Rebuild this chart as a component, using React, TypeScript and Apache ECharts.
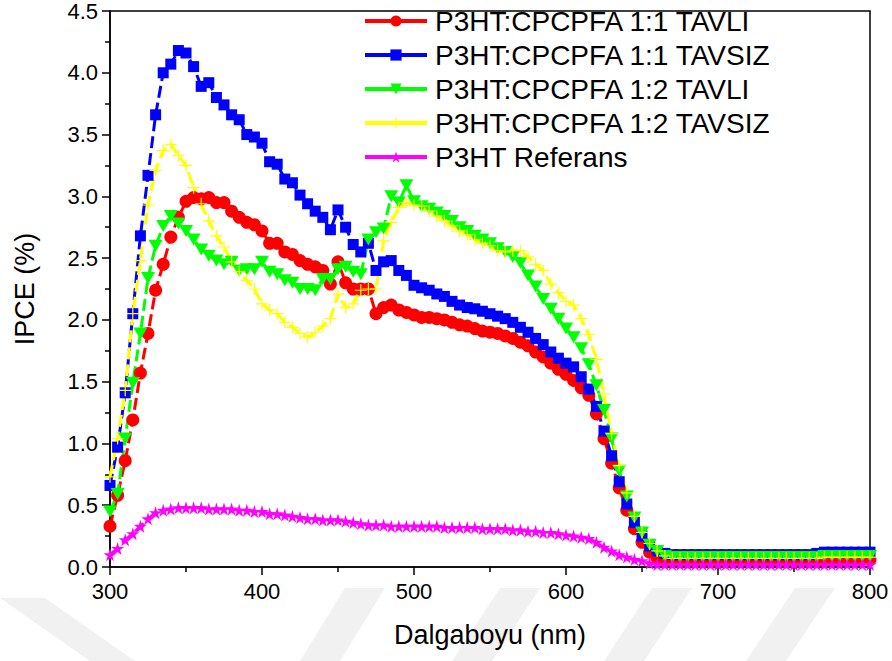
import React, { useEffect, useRef } from "react";
import * as echarts from "echarts";

const wavelength = [
  300, 305, 310, 315, 320, 325, 330, 335, 340, 345,
  350, 355, 360, 365, 370, 375, 380, 385, 390, 395,
  400, 405, 410, 415, 420, 425, 430, 435, 440, 445,
  450, 455, 460, 465, 470, 475, 480, 485, 490, 495,
  500, 505, 510, 515, 520, 525, 530, 535, 540, 545,
  550, 555, 560, 565, 570, 575, 580, 585, 590, 595,
  600, 605, 610, 615, 620, 625, 630, 635, 640, 645,
  650, 655, 660, 665, 670, 675, 680, 685, 690, 695,
  700, 705, 710, 715, 720, 725, 730, 735, 740, 745,
  750, 755, 760, 765, 770, 775, 780, 785, 790, 795,
  800,
];

const tavli11 = [
  0.33, 0.58, 0.86, 1.19, 1.57, 1.89, 2.24, 2.45, 2.67, 2.83,
  2.96, 2.99, 2.98, 2.99, 2.95, 2.95, 2.88, 2.83, 2.79, 2.77,
  2.72, 2.62, 2.62, 2.55, 2.53, 2.48, 2.45, 2.43, 2.40, 2.29,
  2.47, 2.30, 2.25, 2.25, 2.25, 2.05, 2.10, 2.12, 2.08, 2.06,
  2.04, 2.02, 2.02, 2.01, 2.00, 1.98, 1.96, 1.95, 1.93, 1.91,
  1.90, 1.89, 1.87, 1.85, 1.82, 1.79, 1.74, 1.70, 1.65, 1.60,
  1.56, 1.51, 1.45, 1.39, 1.24, 1.04, 0.84, 0.64, 0.46, 0.31,
  0.20, 0.12, 0.07, 0.05, 0.05, 0.05, 0.05, 0.05, 0.05, 0.05,
  0.05, 0.05, 0.05, 0.05, 0.05, 0.05, 0.05, 0.05, 0.05, 0.05,
  0.05, 0.05, 0.05, 0.05, 0.05, 0.06, 0.06, 0.06, 0.06, 0.06,
  0.06,
];

const tavsiz11 = [
  0.66, 0.97, 1.41, 2.05, 2.68, 3.17, 3.66, 4.00, 4.07, 4.18,
  4.16, 4.05, 3.89, 3.92, 3.80, 3.74, 3.66, 3.62, 3.50, 3.48,
  3.43, 3.28, 3.26, 3.14, 3.11, 3.01, 2.94, 2.88, 2.83, 2.73,
  2.89, 2.75, 2.61, 2.55, 2.62, 2.40, 2.47, 2.48, 2.40, 2.36,
  2.28, 2.26, 2.24, 2.21, 2.19, 2.15, 2.12, 2.10, 2.09, 2.07,
  2.05, 2.03, 2.01, 1.98, 1.94, 1.90, 1.85, 1.80, 1.74, 1.69,
  1.65, 1.62, 1.54, 1.44, 1.30, 1.10, 0.90, 0.69, 0.51, 0.36,
  0.25, 0.17, 0.13, 0.11, 0.10, 0.10, 0.10, 0.10, 0.10, 0.10,
  0.10, 0.10, 0.10, 0.10, 0.10, 0.10, 0.10, 0.10, 0.10, 0.10,
  0.10, 0.10, 0.10, 0.11, 0.12, 0.12, 0.12, 0.12, 0.12, 0.12,
  0.12,
];

const tavli12 = [
  0.45, 0.59, 1.04, 1.49, 1.89, 2.34, 2.60, 2.76, 2.84, 2.78,
  2.72, 2.65, 2.57, 2.52, 2.48, 2.45, 2.47, 2.40, 2.41, 2.41,
  2.47, 2.39, 2.37, 2.32, 2.30, 2.25, 2.25, 2.24, 2.33, 2.33,
  2.41, 2.43, 2.39, 2.37, 2.65, 2.71, 2.74, 3.00, 2.95, 3.09,
  2.96, 2.92, 2.90, 2.87, 2.84, 2.80, 2.75, 2.72, 2.68, 2.65,
  2.62, 2.58, 2.55, 2.51, 2.46, 2.36, 2.27, 2.17, 2.09, 2.01,
  1.93, 1.86, 1.77, 1.64, 1.47, 1.27, 1.04, 0.78, 0.57, 0.40,
  0.28, 0.18, 0.13, 0.09, 0.08, 0.08, 0.08, 0.08, 0.08, 0.08,
  0.08, 0.08, 0.08, 0.08, 0.08, 0.08, 0.08, 0.08, 0.08, 0.08,
  0.08, 0.08, 0.08, 0.08, 0.09, 0.09, 0.09, 0.09, 0.09, 0.09,
  0.09,
];

const tavsiz12 = [
  0.73, 1.04, 1.43, 2.05, 2.48, 2.93, 3.21, 3.37, 3.42, 3.33,
  3.25, 3.07, 2.94, 2.80, 2.68, 2.59, 2.47, 2.39, 2.32, 2.25,
  2.13, 2.08, 2.05, 1.98, 1.94, 1.89, 1.86, 1.90, 1.95, 2.01,
  2.21, 2.10, 2.13, 2.24, 2.25, 2.25, 2.64, 2.79, 2.91, 2.95,
  2.93, 2.92, 2.88, 2.84, 2.80, 2.76, 2.72, 2.69, 2.65, 2.62,
  2.60, 2.56, 2.55, 2.56, 2.56, 2.51, 2.45, 2.40, 2.29, 2.22,
  2.15, 2.12, 2.01, 1.88, 1.68, 1.40, 1.08, 0.82, 0.60, 0.41,
  0.28, 0.19, 0.13, 0.09, 0.07, 0.07, 0.07, 0.07, 0.07, 0.07,
  0.07, 0.07, 0.07, 0.07, 0.07, 0.07, 0.07, 0.07, 0.07, 0.07,
  0.07, 0.07, 0.07, 0.07, 0.08, 0.08, 0.08, 0.08, 0.08, 0.08,
  0.08,
];

const referans = [
  0.10, 0.15, 0.22, 0.27, 0.33, 0.39, 0.44, 0.46, 0.47, 0.48,
  0.48, 0.48, 0.48, 0.47, 0.47, 0.47, 0.47, 0.46, 0.46, 0.45,
  0.45, 0.43, 0.43, 0.42, 0.41, 0.40, 0.39, 0.39, 0.38, 0.38,
  0.38, 0.37, 0.36, 0.35, 0.34, 0.34, 0.34, 0.33, 0.33, 0.33,
  0.33, 0.33, 0.33, 0.33, 0.32, 0.32, 0.32, 0.32, 0.32, 0.31,
  0.31, 0.31, 0.31, 0.30, 0.30, 0.29, 0.29, 0.28, 0.28, 0.27,
  0.26, 0.25, 0.24, 0.23, 0.20, 0.16, 0.13, 0.10, 0.08, 0.06,
  0.05, 0.03, 0.02, 0.02, 0.02, 0.02, 0.02, 0.02, 0.02, 0.02,
  0.02, 0.02, 0.02, 0.02, 0.02, 0.02, 0.02, 0.02, 0.02, 0.02,
  0.02, 0.02, 0.02, 0.02, 0.02, 0.02, 0.02, 0.02, 0.02, 0.02,
  0.02,
];

const seriesNames = [
  "P3HT:CPCPFA 1:1 TAVLI",
  "P3HT:CPCPFA 1:1 TAVSIZ",
  "P3HT:CPCPFA 1:2 TAVLI",
  "P3HT:CPCPFA 1:2 TAVSIZ",
  "P3HT Referans",
];

const FONT = "'Liberation Sans', Arial, sans-serif";

const TRI_DOWN = "path://M0,0L12,0L6,10Z";
const PLUS = "path://M4.5,0h1v4.5h4.5v1h-4.5v4.5h-1v-4.5h-4.5v-1h4.5z";
const STAR =
  "path://M50,0L61,35L98,35L68,57L79,91L50,70L21,91L32,57L2,35L39,35Z";

export default function App() {
  const ref = useRef<HTMLDivElement>(null);

  useEffect(() => {
    document.body.style.margin = "0";
    if (!ref.current) return;
    const chart = echarts.init(ref.current, null, { renderer: "svg" });

    const mk = (
      name: string,
      vals: number[],
      color: string,
      symbol: string,
      symbolSize: any
    ) => ({
      name,
      type: "line",
      data: wavelength.map((x, i) => [x, vals[i]]),
      symbol,
      symbolSize,
      showSymbol: true,
      color,
      itemStyle: { color, borderWidth: 0 },
      lineStyle: { color, width: 3, type: [12, 5] },
      emphasis: { disabled: true },
    });

    const wm = "#f1f1f1";
    const band = (x1: number, x2: number) => ({
      type: "polygon",
      z: 0,
      silent: true,
      shape: {
        points: [
          [x1, 661],
          [x1 + 40, 661],
          [x2 + 40, 588],
          [x2, 588],
        ],
      },
      style: { fill: wm },
    });

    chart.setOption({
      animation: false,
      backgroundColor: "#ffffff",
      textStyle: { fontFamily: FONT },
      graphic: [
        {
          type: "polygon",
          z: 0,
          silent: true,
          shape: {
            points: [
              [0, 598],
              [45, 598],
              [135, 661],
              [90, 661],
            ],
          },
          style: { fill: wm },
        },
        band(300, 345),
        band(452, 500),
        band(604, 652),
        band(746, 795),
      ],
      grid: {
        left: 110,
        right: 22,
        top: 9,
        bottom: 94,
        show: true,
        borderColor: "#000",
        borderWidth: 1.5,
        backgroundColor: "transparent",
        z: 3,
      },
      legend: {
        orient: "vertical",
        left: 358,
        top: 2,
        itemWidth: 62,
        itemHeight: 14,
        itemGap: 6,
        lineStyle: { type: "solid", width: 4 },
        textStyle: {
          fontFamily: FONT,
          fontSize: 28,
          color: "#000",
          lineHeight: 28,
          padding: [0, 0, 0, 3],
        },
        data: seriesNames,
      },
      xAxis: {
        type: "value",
        min: 300,
        max: 800,
        interval: 100,
        name: "Dalgaboyu (nm)",
        nameLocation: "middle",
        nameGap: 54,
        nameTextStyle: { fontFamily: FONT, fontSize: 27, color: "#000" },
        axisLine: { show: true, lineStyle: { color: "#000", width: 1.5 } },
        axisTick: {
          show: true,
          inside: false,
          length: 8,
          lineStyle: { color: "#000", width: 1.5 },
        },
        minorTick: {
          show: true,
          splitNumber: 2,
          length: 5,
          lineStyle: { color: "#000", width: 1.5 },
        },
        axisLabel: {
          margin: 13,
          fontFamily: FONT,
          fontSize: 22,
          color: "#000",
        },
        splitLine: { show: false },
      },
      yAxis: {
        type: "value",
        min: 0,
        max: 4.5,
        interval: 0.5,
        name: "IPCE (%)",
        nameLocation: "middle",
        nameGap: 72,
        nameTextStyle: { fontFamily: FONT, fontSize: 27, color: "#000" },
        axisLine: { show: true, lineStyle: { color: "#000", width: 1.5 } },
        axisTick: {
          show: true,
          inside: false,
          length: 8,
          lineStyle: { color: "#000", width: 1.5 },
        },
        minorTick: {
          show: true,
          splitNumber: 2,
          length: 5,
          lineStyle: { color: "#000", width: 1.5 },
        },
        axisLabel: {
          margin: 12,
          fontFamily: FONT,
          fontSize: 22,
          color: "#000",
          formatter: (v: number) => v.toFixed(1),
        },
        splitLine: { show: false },
      },
      series: [
        mk(seriesNames[0], tavli11, "#ff0000", "circle", 13),
        mk(seriesNames[1], tavsiz11, "#0000ff", "rect", 11),
        mk(seriesNames[2], tavli12, "#00ff00", TRI_DOWN, [14, 12]),
        mk(seriesNames[3], tavsiz12, "#ffff00", PLUS, 12),
        mk(seriesNames[4], referans, "#ff00ff", STAR, 13),
      ],
    });

    return () => chart.dispose();
  }, []);

  return <div ref={ref} style={{ width: 892, height: 661 }} />;
}
